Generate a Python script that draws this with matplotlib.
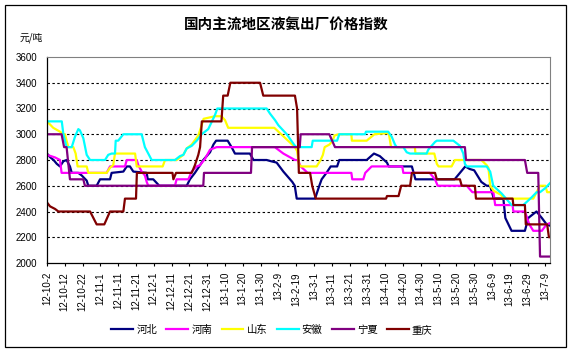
import matplotlib.pyplot as plt
from matplotlib.patches import Rectangle

plt.rcParams["font.family"] = ["Noto Sans CJK SC", "DejaVu Sans"]

# x = days since 2012-10-02
tick_labels = [
    "12-10-2", "12-10-12", "12-10-22", "12-11-1", "12-11-11", "12-11-21",
    "12-12-1", "12-12-11", "12-12-21", "12-12-31", "13-1-10", "13-1-20",
    "13-1-30", "13-2-9", "13-2-19", "13-3-1", "13-3-11", "13-3-21",
    "13-3-31", "13-4-10", "13-4-20", "13-4-30", "13-5-10", "13-5-20",
    "13-5-30", "13-6-9", "13-6-19", "13-6-29", "13-7-9",
]
tick_days = [10 * i for i in range(len(tick_labels))]

hebei_day = [0, 1.9, 3.7, 5.5, 7.3, 9.2, 11, 12.9, 13.9, 17.6, 19.5, 22.3, 23.2, 27.9,
             29.8, 35.4, 36.3, 42.9, 44.8, 46.6, 48.5, 56, 56.6, 59.7, 63.1, 78.5, 80.3,
             83.1, 86, 87.8, 91.6, 93.5, 95, 101.5, 103.7, 105.6, 114, 116, 123.4, 126,
             129, 132.8, 137.8, 139.2, 140.3, 150.6, 153, 154.3, 157, 159.4, 163, 164.2,
             179.6, 183.7, 187, 191, 192, 205, 207, 229, 235, 237.5, 240, 244, 247, 249,
             251, 256.4, 257.5, 261, 268.5, 270.4, 275, 278, 280.7, 282.6]
hebei_val = [2850, 2820, 2800, 2770, 2750, 2790, 2800, 2750, 2700, 2700, 2680, 2640, 2600,
             2600, 2650, 2650, 2700, 2710, 2750, 2750, 2710, 2700, 2650, 2650, 2600, 2600,
             2650, 2700, 2760, 2800, 2860, 2920, 2950, 2950, 2900, 2850, 2850, 2800, 2800,
             2790, 2780, 2710, 2630, 2600, 2500, 2500, 2600, 2650, 2700, 2750, 2750, 2800,
             2800, 2850, 2830, 2780, 2750, 2750, 2650, 2650, 2750, 2730, 2720, 2630, 2600,
             2600, 2500, 2500, 2350, 2250, 2250, 2350, 2400, 2350, 2300, 2290]

henan_day = [0, 4.5, 7.3, 8.2, 33.5, 35.4, 43.8, 44.8, 50.4, 51.3, 53.2, 55, 56, 56.9, 71.9,
             72.8, 79.4, 81.3, 84.1, 86, 88.8, 91.6, 95.3, 128, 132.8, 139.3, 141, 142.5,
             146.5, 171, 171.5, 177.7, 178.8, 182.4, 199.6, 200.2, 215, 218, 219.5, 235.8,
             239, 250.8, 251.8, 261.6, 262, 268.5, 271, 273.2, 278, 280.7, 282.6]
henan_val = [2840, 2820, 2800, 2700, 2700, 2750, 2750, 2800, 2800, 2760, 2710, 2680, 2630,
             2600, 2600, 2650, 2650, 2710, 2750, 2760, 2810, 2880, 2900, 2900, 2850, 2800,
             2800, 2750, 2700, 2700, 2650, 2650, 2700, 2750, 2750, 2700, 2700, 2650, 2600,
             2600, 2550, 2550, 2450, 2450, 2400, 2400, 2300, 2250, 2250, 2300, 2310]

shandong_day = [0, 3.5, 7.3, 9.2, 10.1, 11, 12, 14.8, 16.1, 17.2, 22.3, 23.2, 33.5, 35.4,
                37.2, 38.2, 49.5, 50.4, 65, 66.3, 72.8, 76.6, 78.5, 81.3, 85, 86.9, 88,
                94.4, 98, 100, 101.8, 127.7, 139.3, 140.5, 141.5, 142.5, 151.5, 153.7, 155,
                156, 158.7, 160.5, 161.5, 164, 171, 171.3, 179.6, 184, 192, 193.3, 206.7,
                207, 217.6, 219, 220, 227.3, 229.2, 244, 247, 248, 249, 251, 255, 256.5,
                273.2, 277, 280, 281, 282.6]
shandong_val = [3100, 3050, 3020, 3000, 3000, 2950, 2900, 2900, 2850, 2750, 2750, 2700,
                2700, 2740, 2760, 2850, 2850, 2750, 2750, 2800, 2800, 2840, 2890, 2920,
                2990, 3070, 3120, 3140, 3140, 3110, 3050, 3050, 2900, 2870, 2770, 2750,
                2750, 2800, 2840, 2900, 2920, 2950, 2990, 3000, 3000, 2950, 2950, 3000,
                3010, 2900, 2900, 2850, 2850, 2770, 2750, 2750, 2800, 2800, 2760, 2740,
                2600, 2560, 2530, 2500, 2500, 2600, 2600, 2550, 2550]

anhui_day = [0, 8.3, 9.2, 11, 13.9, 15.7, 17.6, 18.5, 20.4, 22.3, 24.2, 32.6, 34.4, 36.3,
             38.2, 38.6, 40, 42.9, 53.2, 55, 56.9, 58.8, 71.9, 74.7, 76.6, 78.5, 81.3, 84.1,
             86.9, 90.6, 94.4, 95.7, 123.4, 125.3, 128.1, 130, 134.7, 139.3, 140.3, 148.7,
             149.3, 163, 164.2, 178.7, 179.2, 191.7, 193.7, 195.5, 196.5, 200.2, 202.1,
             203.9, 213.3, 214.2, 218, 219, 228.3, 232, 233.9, 234.8, 235.8, 247, 249,
             250.7, 255.4, 259.2, 261, 267.6, 272.3, 275.1, 277, 279.8, 282.6]
anhui_val = [3100, 3100, 3000, 2900, 2900, 2980, 3040, 3030, 2970, 2840, 2800, 2800, 2840,
             2850, 2850, 2950, 2950, 3000, 3000, 2900, 2850, 2800, 2800, 2830, 2840, 2890,
             2910, 2950, 3000, 3040, 3150, 3200, 3200, 3160, 3110, 3070, 3000, 2910, 2900,
             2900, 2950, 2950, 3000, 3000, 3020, 3020, 2980, 2920, 2900, 2900, 2860, 2850,
             2850, 2880, 2940, 2950, 2950, 2910, 2850, 2770, 2750, 2750, 2710, 2600, 2540,
             2480, 2450, 2450, 2510, 2550, 2550, 2580, 2620]

ningxia_day = [0, 8.2, 9.6, 11, 12.9, 20.4, 21.3, 87.8, 88.2, 114.6, 115.2, 142, 142.5,
               158.6, 161.8, 234.8, 235.4, 268.5, 269.8, 276, 277, 282.6]
ningxia_val = [3000, 3000, 2900, 2900, 2650, 2650, 2600, 2600, 2700, 2700, 2900, 2900,
               3000, 3000, 2900, 2900, 2800, 2800, 2700, 2700, 2050, 2050]

chongqing_day = [0, 1.7, 4.5, 6.4, 24.2, 27.9, 32.2, 35.4, 42.9, 43.8, 50, 50.5, 70.5, 71,
                 72.5, 81.3, 83.1, 85, 86, 87, 98, 99, 101.5, 103, 119.7, 121.5, 139.3,
                 140.5, 141.5, 147.8, 149, 150, 151, 190.5, 191, 197.5, 199, 204, 205, 218,
                 219, 232, 233, 240.4, 241, 261.6, 262, 268.5, 269, 281, 282, 282.6]
chongqing_val = [2470, 2440, 2420, 2400, 2400, 2300, 2300, 2400, 2400, 2500, 2500, 2700,
                 2700, 2650, 2700, 2700, 2760, 2840, 2900, 3100, 3100, 3300, 3300, 3400,
                 3400, 3300, 3300, 3200, 2700, 2700, 2600, 2550, 2500, 2500, 2520, 2520,
                 2600, 2600, 2700, 2700, 2650, 2650, 2600, 2600, 2500, 2500, 2450, 2450,
                 2300, 2300, 2200, 2200]

series = [
    ("河北", hebei_day, hebei_val, "#000080"),
    ("河南", henan_day, henan_val, "#FF00FF"),
    ("山东", shandong_day, shandong_val, "#FFFF00"),
    ("安徽", anhui_day, anhui_val, "#00FFFF"),
    ("宁夏", ningxia_day, ningxia_val, "#800080"),
    ("重庆", chongqing_day, chongqing_val, "#800000"),
]

W, H = 573, 353
fig = plt.figure(figsize=(W / 100, H / 100), dpi=100)
ax = fig.add_axes([47 / W, 1 - 263 / H, 503 / W, 206 / H])

# outer chart border
fig.patches.append(Rectangle((5 / W, 1 - 347 / H), 561 / W, 342 / H,
                             transform=fig.transFigure, fill=False,
                             ec="black", lw=0.9))

for y in range(2200, 3600, 200):
    ax.axhline(y, color="black", lw=0.8, dashes=(2.2, 2.2), zorder=1)

for name, d, v, c in series:
    ax.plot(d, v, color=c, lw=1.6, label=name, zorder=2)

ax.set_xlim(0, 282.6)
ax.set_ylim(2000, 3600)
ax.set_yticks(range(2000, 3601, 200))
ax.set_xticks(tick_days)
ax.set_xticklabels(tick_labels, rotation=90, fontsize=7,
                   family=["Liberation Sans", "DejaVu Sans"])
for t in ax.get_yticklabels():
    t.set_family(["Liberation Sans", "DejaVu Sans"])
ax.tick_params(axis="y", length=0, pad=7, labelsize=7)
ax.tick_params(axis="x", length=2.5, width=0.8, direction="out", pad=4)

for s in ("top", "right"):
    ax.spines[s].set_color("#808080")
    ax.spines[s].set_linewidth(0.8)
for s in ("left", "bottom"):
    ax.spines[s].set_color("black")
    ax.spines[s].set_linewidth(0.9)

fig.text(286 / W, 1 - 25 / H, "国内主流地区液氨出厂价格指数", ha="center",
         va="center", fontsize=10.5, fontweight="bold")
fig.text(20 / W, 1 - 38 / H, "元/吨", ha="left", va="center", fontsize=7)

fig.legend(loc="center", bbox_to_anchor=(272 / W, 1 - 330 / H), ncol=6,
           frameon=False, fontsize=7.5, handlelength=2.1, handletextpad=0.3,
           columnspacing=0.9, borderaxespad=0)

fig.savefig("out.png", dpi=100)
